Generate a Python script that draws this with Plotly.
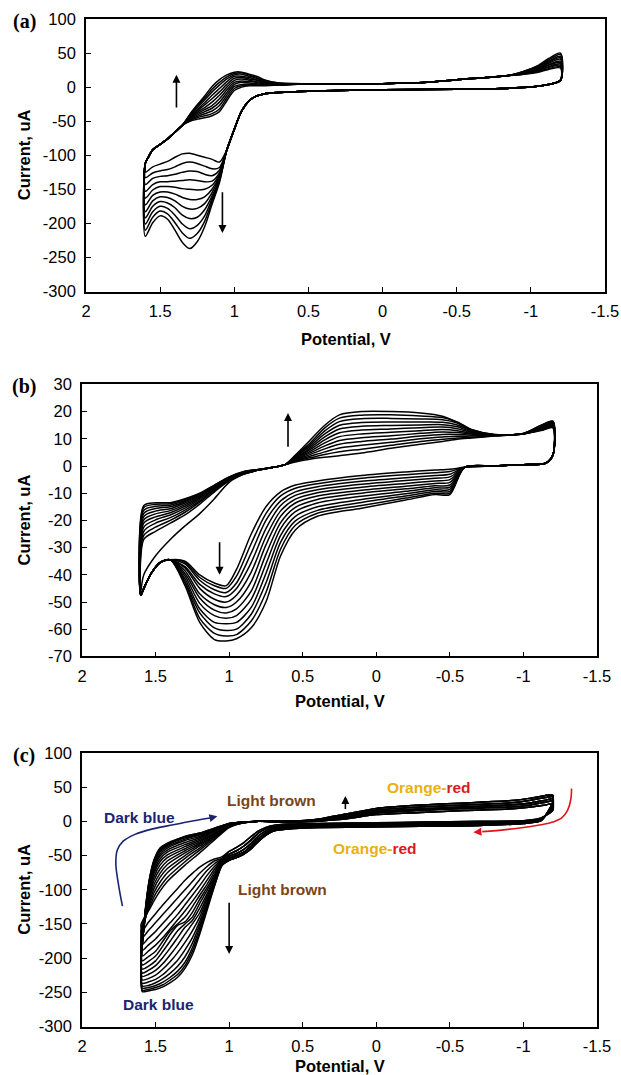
import plotly.graph_objects as go

# ======================= Panel (a) data =======================
XA_LO_R = [-1.2, -1.1, -1.0, -0.8, -0.5, 0.0, 0.3, 0.5, 0.7, 0.8, 0.85, 0.9, 0.95, 1.0, 1.05]
YA_LO_R = [10, 3, 0, -2, -3, -4, -5, -6, -8, -10, -13, -20, -35, -62, -92]
XA_LO_L = [1.1, 1.15, 1.2, 1.25, 1.3, 1.35, 1.4, 1.45, 1.5, 1.55, 1.6]
YA_LO_L = [
    [-110, -106, -103, -100, -97, -98, -103, -109, -113, -117, -125],
    [-118, -120, -116, -112, -110, -112, -117, -121, -123, -126, -133],
    [-122, -130, -128, -124, -123, -125, -128, -130, -131, -134, -143],
    [-126, -138, -139, -137, -136, -137, -138, -139, -139, -143, -153],
    [-128, -144, -150, -151, -150, -149, -147, -146, -146, -151, -163],
    [-130, -150, -161, -165, -165, -162, -157, -154, -154, -159, -173],
    [-132, -155, -171, -178, -179, -175, -167, -162, -161, -167, -183],
    [-134, -160, -180, -191, -193, -188, -177, -170, -168, -175, -192],
    [-136, -164, -189, -203, -208, -201, -188, -178, -175, -183, -201],
    [-138, -168, -197, -215, -222, -214, -199, -186, -182, -191, -210],
    [-140, -172, -205, -227, -237, -228, -210, -194, -189, -199, -219],
]
XA_UP_L = [1.6, 1.58, 1.55, 1.5, 1.45, 1.4, 1.35]
YA_UP_L = [-112, -103, -92, -84, -76, -66, -56]
XA_UP_M = [1.3, 1.25, 1.2, 1.15, 1.1, 1.05, 1.0, 0.95, 0.9, 0.85, 0.8, 0.7]
YA_UP_M = [
    [-50, -47, -45, -42, -36, -20, -5, 0, 2, 2, 2, 3],
    [-49, -45, -42, -39, -32, -16, -2, 2, 3, 3, 3, 3],
    [-48, -43, -39, -35, -27, -12, 1, 4, 4, 4, 3, 3],
    [-47, -41, -36, -31, -22, -8, 4, 7, 6, 5, 4, 4],
    [-46, -39, -33, -27, -17, -4, 7, 9, 8, 7, 5, 4],
    [-45, -37, -30, -22, -12, 0, 10, 12, 10, 8, 6, 4],
    [-44, -35, -26, -17, -7, 4, 13, 14, 12, 10, 7, 5],
    [-43, -33, -23, -12, -2, 8, 16, 16, 14, 11, 8, 5],
    [-42, -30, -19, -7, 3, 12, 18, 19, 16, 13, 9, 5],
    [-41, -28, -16, -3, 7, 15, 20, 21, 18, 14, 10, 6],
    [-40, -26, -13, 1, 11, 18, 22, 22, 19, 16, 11, 6],
]
XA_UP_R = [0.5, 0.3, 0.0, -0.3, -0.5, -0.7, -0.85]
YA_UP_R = [5, 5, 5, 7, 11, 14, 17]
XA_END = [-0.95, -1.05, -1.12, -1.2]
YA_END = [
    [19, 22, 26, 28], [19, 23, 27, 30], [20, 24, 29, 32], [20, 25, 30, 34],
    [20, 26, 32, 36], [21, 27, 33, 38], [21, 28, 35, 41], [22, 29, 37, 43],
    [22, 30, 38, 45], [23, 31, 40, 48], [23, 32, 42, 50],
]

# ======================= Panel (b) data =======================
XB_LO_R = [-1.2, -1.15, -1.0, -0.8, -0.6]
YB_LO_R = [4, 1, 0.5, 0, -0.5]
XB_LO_M = [-0.5, -0.4, -0.2, 0.1, 0.4, 0.55, 0.65, 0.75, 0.85, 0.95, 1.02, 1.1, 1.2, 1.3]
YB_LO_M = [
    [-1.2, -1.5, -2.2, -3.5, -5.5, -7.0, -9.5, -15.0, -25.0, -38.0, -44.0, -43.0, -40.0, -35.0],
    [-2.0, -2.5, -3.2, -4.5, -6.5, -8.2, -11.0, -17.5, -28.5, -40.5, -45.0, -44.0, -41.0, -35.5],
    [-3.0, -3.5, -4.3, -5.6, -7.6, -9.5, -12.8, -20.0, -32.0, -43.0, -46.5, -45.5, -42.0, -36.0],
    [-4.0, -4.5, -5.3, -6.7, -8.7, -10.8, -14.5, -23.0, -35.5, -45.0, -48.0, -47.0, -43.5, -37.0],
    [-5.0, -5.5, -6.4, -7.8, -9.8, -12.2, -16.5, -26.0, -39.0, -47.5, -50.0, -49.0, -45.0, -37.5],
    [-6.0, -6.4, -7.4, -8.9, -11.0, -13.6, -18.5, -29.0, -42.5, -50.0, -52.0, -51.0, -47.0, -38.5],
    [-7.0, -7.3, -8.4, -10.0, -12.3, -15.2, -20.8, -32.5, -46.0, -52.5, -54.0, -53.0, -48.5, -39.5],
    [-7.8, -8.0, -9.3, -11.1, -13.6, -16.8, -23.0, -36.0, -49.0, -55.0, -56.0, -55.0, -50.5, -40.5],
    [-8.6, -8.7, -10.2, -12.3, -15.0, -18.5, -25.5, -39.5, -52.0, -57.5, -58.0, -57.5, -52.5, -41.5],
    [-9.3, -9.4, -11.0, -13.4, -16.3, -20.2, -28.0, -43.0, -54.5, -60.0, -60.5, -59.5, -54.0, -42.5],
    [-10.0, -10.0, -11.8, -14.5, -17.4, -21.8, -30.5, -46.5, -57.0, -62.0, -62.5, -61.5, -56.0, -43.0],
    [-10.5, -10.5, -12.5, -15.5, -18.5, -23.5, -33.0, -50.0, -59.5, -63.5, -64.3, -63.8, -57.5, -44.0],
]
XB_LO_L = [1.4, 1.47, 1.53, 1.58, 1.6]
YB_LO_L = [-34.5, -35.5, -39.5, -45, -47.5]
XB_UP_L = [1.58, 1.5, 1.4, 1.3, 1.2, 1.1, 1.0, 0.9, 0.8, 0.7, 0.62]
YB_UP_L = [
    [-40, -33, -27, -22, -17.5, -12, -6, -3, -1.5, -0.5, 0.5],
    [-27, -24, -21, -18, -14, -9.5, -5.5, -3, -1.5, -0.5, 0.5],
    [-25.5, -22.5, -20, -17, -13.3, -9, -5.3, -2.9, -1.5, -0.5, 0.5],
    [-24, -21, -19, -16.2, -12.8, -8.6, -5.1, -2.8, -1.5, -0.5, 0.5],
    [-22.5, -19.8, -18, -15.5, -12.3, -8.3, -4.9, -2.7, -1.4, -0.5, 0.5],
    [-21, -18.7, -17.2, -14.8, -11.8, -8.0, -4.7, -2.6, -1.4, -0.5, 0.5],
    [-19.8, -17.6, -16.4, -14.2, -11.4, -7.8, -4.6, -2.5, -1.4, -0.5, 0.5],
    [-18.6, -16.6, -15.7, -13.6, -11.0, -7.6, -4.4, -2.4, -1.4, -0.5, 0.5],
    [-17.4, -15.6, -15.0, -13.1, -10.7, -7.4, -4.3, -2.3, -1.3, -0.5, 0.5],
    [-16.3, -14.8, -14.4, -12.7, -10.4, -7.2, -4.2, -2.2, -1.3, -0.5, 0.5],
    [-15.3, -14.1, -13.9, -12.3, -10.2, -7.1, -4.1, -2.1, -1.3, -0.5, 0.5],
    [-14.5, -13.5, -13.5, -12.0, -10.0, -7.0, -4.0, -2.0, -1.3, -0.5, 0.5],
]
XB_UP_R = [0.55, 0.45, 0.35, 0.25, 0.1, -0.1, -0.3, -0.45, -0.55, -0.65, -0.8, -1.0, -1.12, -1.2]
YB_UP_R = [
    [1.5, 2.5, 3.2, 3.8, 4.8, 6.5, 8.0, 9.0, 9.8, 10.3, 11.0, 11.8, 13.0, 14.0],
    [1.8, 3.0, 4.2, 5.2, 6.2, 7.6, 9.0, 9.8, 10.3, 10.6, 11.1, 11.8, 13.2, 14.2],
    [2.0, 3.6, 5.2, 6.6, 7.6, 8.7, 10.0, 10.7, 10.9, 11.0, 11.2, 11.8, 13.4, 14.4],
    [2.2, 4.2, 6.3, 8.0, 9.0, 9.9, 11.0, 11.6, 11.6, 11.3, 11.3, 11.8, 13.6, 14.6],
    [2.4, 4.8, 7.4, 9.4, 10.4, 11.1, 12.0, 12.5, 12.3, 11.7, 11.4, 11.8, 13.8, 14.8],
    [2.6, 5.4, 8.5, 10.8, 11.8, 12.4, 13.0, 13.4, 13.0, 12.0, 11.4, 11.9, 14.0, 15.0],
    [2.8, 6.0, 9.6, 12.2, 13.2, 13.6, 14.1, 14.3, 13.7, 12.3, 11.5, 11.9, 14.1, 15.3],
    [3.0, 6.6, 10.7, 13.6, 14.6, 14.9, 15.1, 15.2, 14.4, 12.6, 11.5, 11.9, 14.3, 15.6],
    [3.3, 7.2, 11.8, 15.0, 16.0, 16.2, 16.2, 16.1, 15.1, 12.9, 11.5, 11.9, 14.5, 15.9],
    [3.5, 7.8, 12.9, 16.3, 17.4, 17.5, 17.3, 17.0, 15.8, 13.1, 11.5, 12.0, 14.7, 16.2],
    [3.8, 8.4, 14.0, 17.6, 18.7, 18.8, 18.4, 17.8, 16.2, 13.3, 11.6, 12.0, 14.9, 16.4],
    [4.0, 9.5, 15.0, 18.8, 20.0, 20.0, 19.5, 18.3, 16.0, 13.3, 11.6, 12.0, 15.0, 16.5],
]

# ======================= Panel (c) data =======================
XC_LO_R = [-1.2, -1.12, -1.0, -0.7, -0.3, 0.0, 0.4, 0.6, 0.7, 0.75, 0.8, 0.85, 0.9, 0.95, 1.0]
YC_LO_R_VAR = [
    [16, 5, 1, 0, -1, -2, -3, -4, -6, -9, -14, -22, -31, -38, -44],
    [19, 4, 0, -1.5, -2.5, -3.5, -4.5, -5.5, -8, -11, -17, -27, -36, -43, -48],
    [22, 3, -1, -3, -4, -5, -6, -7.5, -10, -14, -21, -32, -41, -47, -51],
    [25, 2, -2, -4.5, -5.5, -6.5, -7.5, -9, -12, -17, -25, -36, -45, -50, -54],
    [28, 1, -3, -6, -7, -8, -9, -11, -14, -20, -29, -40, -48, -53, -57],
]
XC_LO_L = [1.05, 1.1, 1.15, 1.2, 1.25, 1.3, 1.35, 1.4, 1.45, 1.5, 1.55, 1.59]
YC_LO_L = [
    [-52, -55, -60, -67, -76, -86, -98, -110, -122, -135, -148, -160],
    [-54, -58, -66, -76, -88, -100, -112, -124, -136, -148, -160, -170],
    [-55, -62, -72, -85, -99, -112, -125, -137, -149, -161, -171, -180],
    [-56, -66, -79, -94, -108, -122, -136, -148, -160, -172, -181, -189],
    [-57, -70, -86, -102, -117, -131, -144, -157, -170, -181, -190, -197],
    [-58, -74, -92, -108, -125, -140, -150, -160, -175, -190, -198, -204],
    [-59, -78, -97, -114, -133, -147, -152, -165, -182, -197, -205, -210],
    [-60, -81, -101, -120, -140, -150, -160, -175, -190, -204, -212, -216],
    [-61, -84, -106, -127, -145, -155, -170, -185, -199, -211, -218, -222],
    [-62, -86, -110, -134, -150, -165, -181, -195, -208, -218, -224, -227],
    [-63, -88, -114, -140, -160, -177, -192, -205, -216, -225, -230, -232],
    [-63, -90, -118, -146, -170, -188, -203, -214, -224, -231, -235, -237],
    [-64, -91, -121, -151, -178, -198, -212, -222, -230, -236, -240, -241],
    [-64, -92, -124, -156, -185, -206, -219, -228, -235, -240, -243, -244],
    [-65, -94, -127, -161, -190, -211, -224, -232, -239, -243, -246, -247],
    [-65, -95, -130, -165, -195, -215, -228, -236, -242, -246, -248, -249],
]
XC_UP_L = [1.6, 1.585, 1.565, 1.54, 1.51, 1.47, 1.42, 1.3, 1.2, 1.1, 1.0, 0.9, 0.8]
YC_UP_L = [
    [-152, -144, -137, -128, -116, -102, -88, -64, -46, -27, -9, -2, 0],
    [-160, -148, -138, -125, -110, -96, -82, -59, -42, -25, -8, -2, 0],
    [-168, -152, -138, -121, -104, -89, -75, -54, -39, -23, -7, -2, 0],
    [-176, -156, -138, -117, -98, -82, -69, -50, -36, -22, -7, -2, 0],
    [-182, -160, -137, -112, -92, -76, -63, -46, -34, -21, -6, -2, 0],
    [-188, -163, -135, -108, -86, -70, -58, -43, -32, -19, -6, -1, 0],
    [-192, -165, -133, -104, -81, -64, -53, -40, -30, -18, -6, -1, 0],
    [-196, -166, -130, -100, -76, -59, -49, -37, -28, -17, -5, -1, 0],
    [-199, -167, -128, -96, -72, -55, -45, -34, -26, -15, -5, -1, 0],
    [-202, -167, -126, -93, -68, -51, -42, -31, -24, -14, -4, -1, 0],
    [-204, -167, -125, -90, -65, -48, -39, -28, -22, -13, -4, -1, 0],
    [-206, -167, -124, -88, -62, -45, -37, -26, -20, -12, -4, -1, 0],
    [-208, -167, -123, -86, -60, -43, -35, -24, -19, -11, -3, -1, 0],
    [-210, -167, -122, -84, -58, -41, -34, -23, -18, -11, -3, -1, 0],
    [-211, -167, -121, -83, -57, -40, -33, -22, -17, -10, -3, -1, 0],
    [-212, -167, -120, -82, -56, -39, -32, -22, -17, -10, -3, -1, 0],
]
XC_UP_R = [0.6, 0.4, 0.3, 0.2, 0.0, -0.3, -0.6, -0.9, -1.05, -1.15, -1.2]
YC_UP_R_VAR = [
    [-1, 0, 2, 4, 10, 13, 16, 18, 21, 24, 26],
    [-0.5, 1, 3, 5.5, 12, 16, 19, 21, 24, 28, 30],
    [0, 1.5, 4, 7, 14, 18, 21, 24, 27, 31, 33],
    [0, 2, 5.5, 9, 16.5, 21, 24, 27, 31, 35, 36],
    [0, 3, 7, 11, 19, 24, 27, 30, 34, 38, 38],
]
C_LO_VAR = [0, 0, 1, 1, 1, 2, 2, 2, 3, 3, 3, 3, 4, 4, 4, 4]
C_UP_VAR = [0, 0, 0, 1, 1, 1, 2, 2, 2, 2, 3, 3, 3, 4, 4, 4]

# ======================= annotation data =======================
X_TICKS = [2, 1.5, 1, 0.5, 0, -0.5, -1, -1.5]
X_TICK_TEXT = ["2", "1.5", "1", "0.5", "0", "-0.5", "-1", "-1.5"]
YA_TICKS = [100, 50, 0, -50, -100, -150, -200, -250, -300]
YB_TICKS = [30, 20, 10, 0, -10, -20, -30, -40, -50, -60, -70]
BLUE_CURVE_X = [1.725, 1.75, 1.77, 1.76, 1.72, 1.64, 1.52, 1.38, 1.24, 1.13]
BLUE_CURVE_Y = [-124, -95, -62, -42, -29, -19, -11, -5, 1, 5]
RED_CURVE_X = [-1.327, -1.322, -1.30, -1.26, -1.2, -1.12, -1.0, -0.88, -0.72]
RED_CURVE_Y = [48, 32, 16, 5, -1, -5, -9, -12, -15]

# page pixel geometry (body margin removed in the page, see post_script)
OFF = 0
W, H = 621, 1075
PANELS = {
    "a": dict(x0=86, x1=605, y0=19, y1=291.5, yr=[-300, 100], tt=47),
    "b": dict(x0=82, x1=597, y0=384.4, y1=656.4, yr=[-70, 30], tt=45),
    "c": dict(x0=82, x1=597, y0=753, y1=1026.5, yr=[-300, 100], tt=39),
}


def px_x(v):
    return (v - OFF) / W


def px_y(v):
    return 1 - (v - OFF) / H


fig = go.Figure()
LINE = dict(color="black", width=1.5, shape="spline", smoothing=0.8)
LINE_C = dict(color="black", width=1.5, shape="spline", smoothing=0.6)


def add_loop(xs, ys, ax, line=LINE):
    fig.add_trace(go.Scatter(x=xs, y=ys, mode="lines", line=line,
                             xaxis="x" + ax, yaxis="y" + ax,
                             showlegend=False, hoverinfo="skip"))


# panel (a)
for i in range(len(YA_LO_L)):
    xs = XA_LO_R + XA_LO_L + XA_UP_L + XA_UP_M + XA_UP_R + XA_END + [XA_LO_R[0]]
    ys = YA_LO_R + YA_LO_L[i] + YA_UP_L + YA_UP_M[i] + YA_UP_R + YA_END[i] + [YA_LO_R[0]]
    add_loop(xs, ys, "")

# panel (b)
for i in range(len(YB_LO_M)):
    xs = XB_LO_R + XB_LO_M + XB_LO_L + XB_UP_L + XB_UP_R + [XB_LO_R[0]]
    ys = YB_LO_R + YB_LO_M[i] + YB_LO_L + YB_UP_L[i] + YB_UP_R[i] + [YB_LO_R[0]]
    add_loop(xs, ys, "2")

# panel (c)
for i in range(len(YC_LO_L)):
    lo = YC_LO_R_VAR[C_LO_VAR[i]]
    up = YC_UP_R_VAR[C_UP_VAR[i]]
    xs = XC_LO_R + XC_LO_L + XC_UP_L + XC_UP_R + [XC_LO_R[0]]
    ys = lo + YC_LO_L[i] + YC_UP_L[i] + up + [lo[0]]
    add_loop(xs, ys, "3", LINE_C)

# coloured curved arrows in panel (c)
fig.add_trace(go.Scatter(x=BLUE_CURVE_X, y=BLUE_CURVE_Y, mode="lines",
                         line=dict(color="#1b2470", width=1.6, shape="spline"),
                         xaxis="x3", yaxis="y3", showlegend=False, hoverinfo="skip"))
fig.add_trace(go.Scatter(x=RED_CURVE_X, y=RED_CURVE_Y, mode="lines",
                         line=dict(color="#e0141c", width=1.6, shape="spline"),
                         xaxis="x3", yaxis="y3", showlegend=False, hoverinfo="skip"))

TICKFONT = dict(family="Liberation Sans, Arial", size=16.5, color="black")
layout = dict(width=W, height=H, margin=dict(l=0, r=0, t=0, b=0, autoexpand=False),
              paper_bgcolor="white", plot_bgcolor="white", showlegend=False)

for key, suf in (("a", ""), ("b", "2"), ("c", "3")):
    p = PANELS[key]
    xd = [px_x(p["x0"]), px_x(p["x1"])]
    yd = [px_y(p["y1"]), px_y(p["y0"])]
    yt = YB_TICKS if key == "b" else YA_TICKS
    layout["xaxis" + suf] = dict(
        domain=xd, range=[2, -1.5], anchor="y" + suf, tickvals=X_TICKS, ticktext=X_TICK_TEXT,
        ticks="inside", ticklen=5, tickwidth=1.3, tickcolor="black", automargin=False,
        showline=True, linecolor="black", linewidth=1.6, mirror=True,
        showgrid=False, zeroline=False, tickfont=TICKFONT, ticklabelstandoff=4)
    layout["yaxis" + suf] = dict(
        domain=yd, range=p["yr"], anchor="x" + suf, tickvals=yt, ticktext=[str(v) for v in yt],
        ticks="inside", ticklen=5, tickwidth=1.3, tickcolor="black", automargin=False,
        showline=True, linecolor="black", linewidth=1.6, mirror=True,
        showgrid=False, zeroline=False, tickfont=TICKFONT, ticklabelstandoff=5)

fig.update_layout(**layout)

BOLD = "Liberation Sans, Arial"
ann = []
for key, lab in (("a", "(a)"), ("b", "(b)"), ("c", "(c)")):
    p = PANELS[key]
    ann.append(dict(text="<b>" + lab + "</b>", xref="paper", yref="paper",
                    x=px_x(24), y=px_y(p["y0"] + 2), showarrow=False,
                    xanchor="center", yanchor="middle",
                    font=dict(family="Liberation Serif, Times New Roman", size=20, color="black")))
    ann.append(dict(text="<b>Current, uA</b>", xref="paper", yref="paper", textangle=-90,
                    x=px_x(24), y=px_y((p["y0"] + p["y1"]) / 2), showarrow=False,
                    xanchor="center", yanchor="middle",
                    font=dict(family=BOLD, size=16.5, color="black")))
    ann.append(dict(text="<b>Potential, V</b>", xref="paper", yref="paper",
                    x=px_x((p["x0"] + p["x1"]) / 2), y=px_y(p["y1"] + p["tt"]), showarrow=False,
                    xanchor="center", yanchor="middle",
                    font=dict(family=BOLD, size=16.5, color="black")))


def arrow(x, y, ax, ay, axis, color="black", width=1.6, head=2, size=1.0):
    return dict(x=x, y=y, ax=ax, ay=ay, xref="x" + axis, yref="y" + axis,
                axref="x" + axis, ayref="y" + axis, text="", showarrow=True,
                arrowhead=head, arrowsize=size, arrowwidth=width, arrowcolor=color)


ann += [
    arrow(1.39, 18, 1.39, -32, ""),
    arrow(1.08, -214, 1.08, -152, ""),
    arrow(0.6, 19.5, 0.6, 6.5, "2"),
    arrow(1.065, -40, 1.065, -27.5, "2"),
    arrow(0.21, 37, 0.21, 16, "3"),
    arrow(1.0, -194, 1.0, -117, "3"),
    arrow(1.08, 7.5, BLUE_CURVE_X[-1], BLUE_CURVE_Y[-1], "3", color="#1b2470"),
    arrow(-0.66, -16, RED_CURVE_X[-1], RED_CURVE_Y[-1], "3", color="#e0141c"),
]

NAVY, BROWN, ORANGE, RED = "#1b2470", "#7a4519", "#e8b10e", "#db1a21"
OR_TXT = "<b><span style='color:%s'>Orange-</span><span style='color:%s'>red</span></b>" % (ORANGE, RED)
texts = [
    ("<b>Dark blue</b>", 1.61, 5, NAVY),
    ("<b>Dark blue</b>", 1.48, -268, NAVY),
    ("<b>Light brown</b>", 0.71, 31, BROWN),
    ("<b>Light brown</b>", 0.64, -100, BROWN),
    (OR_TXT, -0.36, 50, ORANGE),
    (OR_TXT, 0.01, -40, ORANGE),
]
for t, x, y, c in texts:
    ann.append(dict(text=t, x=x, y=y, xref="x3", yref="y3", showarrow=False,
                    xanchor="center", yanchor="middle",
                    font=dict(family=BOLD, size=15.5, color=c)))

fig.update_layout(annotations=ann)
fig.write_html("out.html", config={"displayModeBar": False},
               post_script="document.body.style.margin='0';document.body.style.overflow='hidden';")
